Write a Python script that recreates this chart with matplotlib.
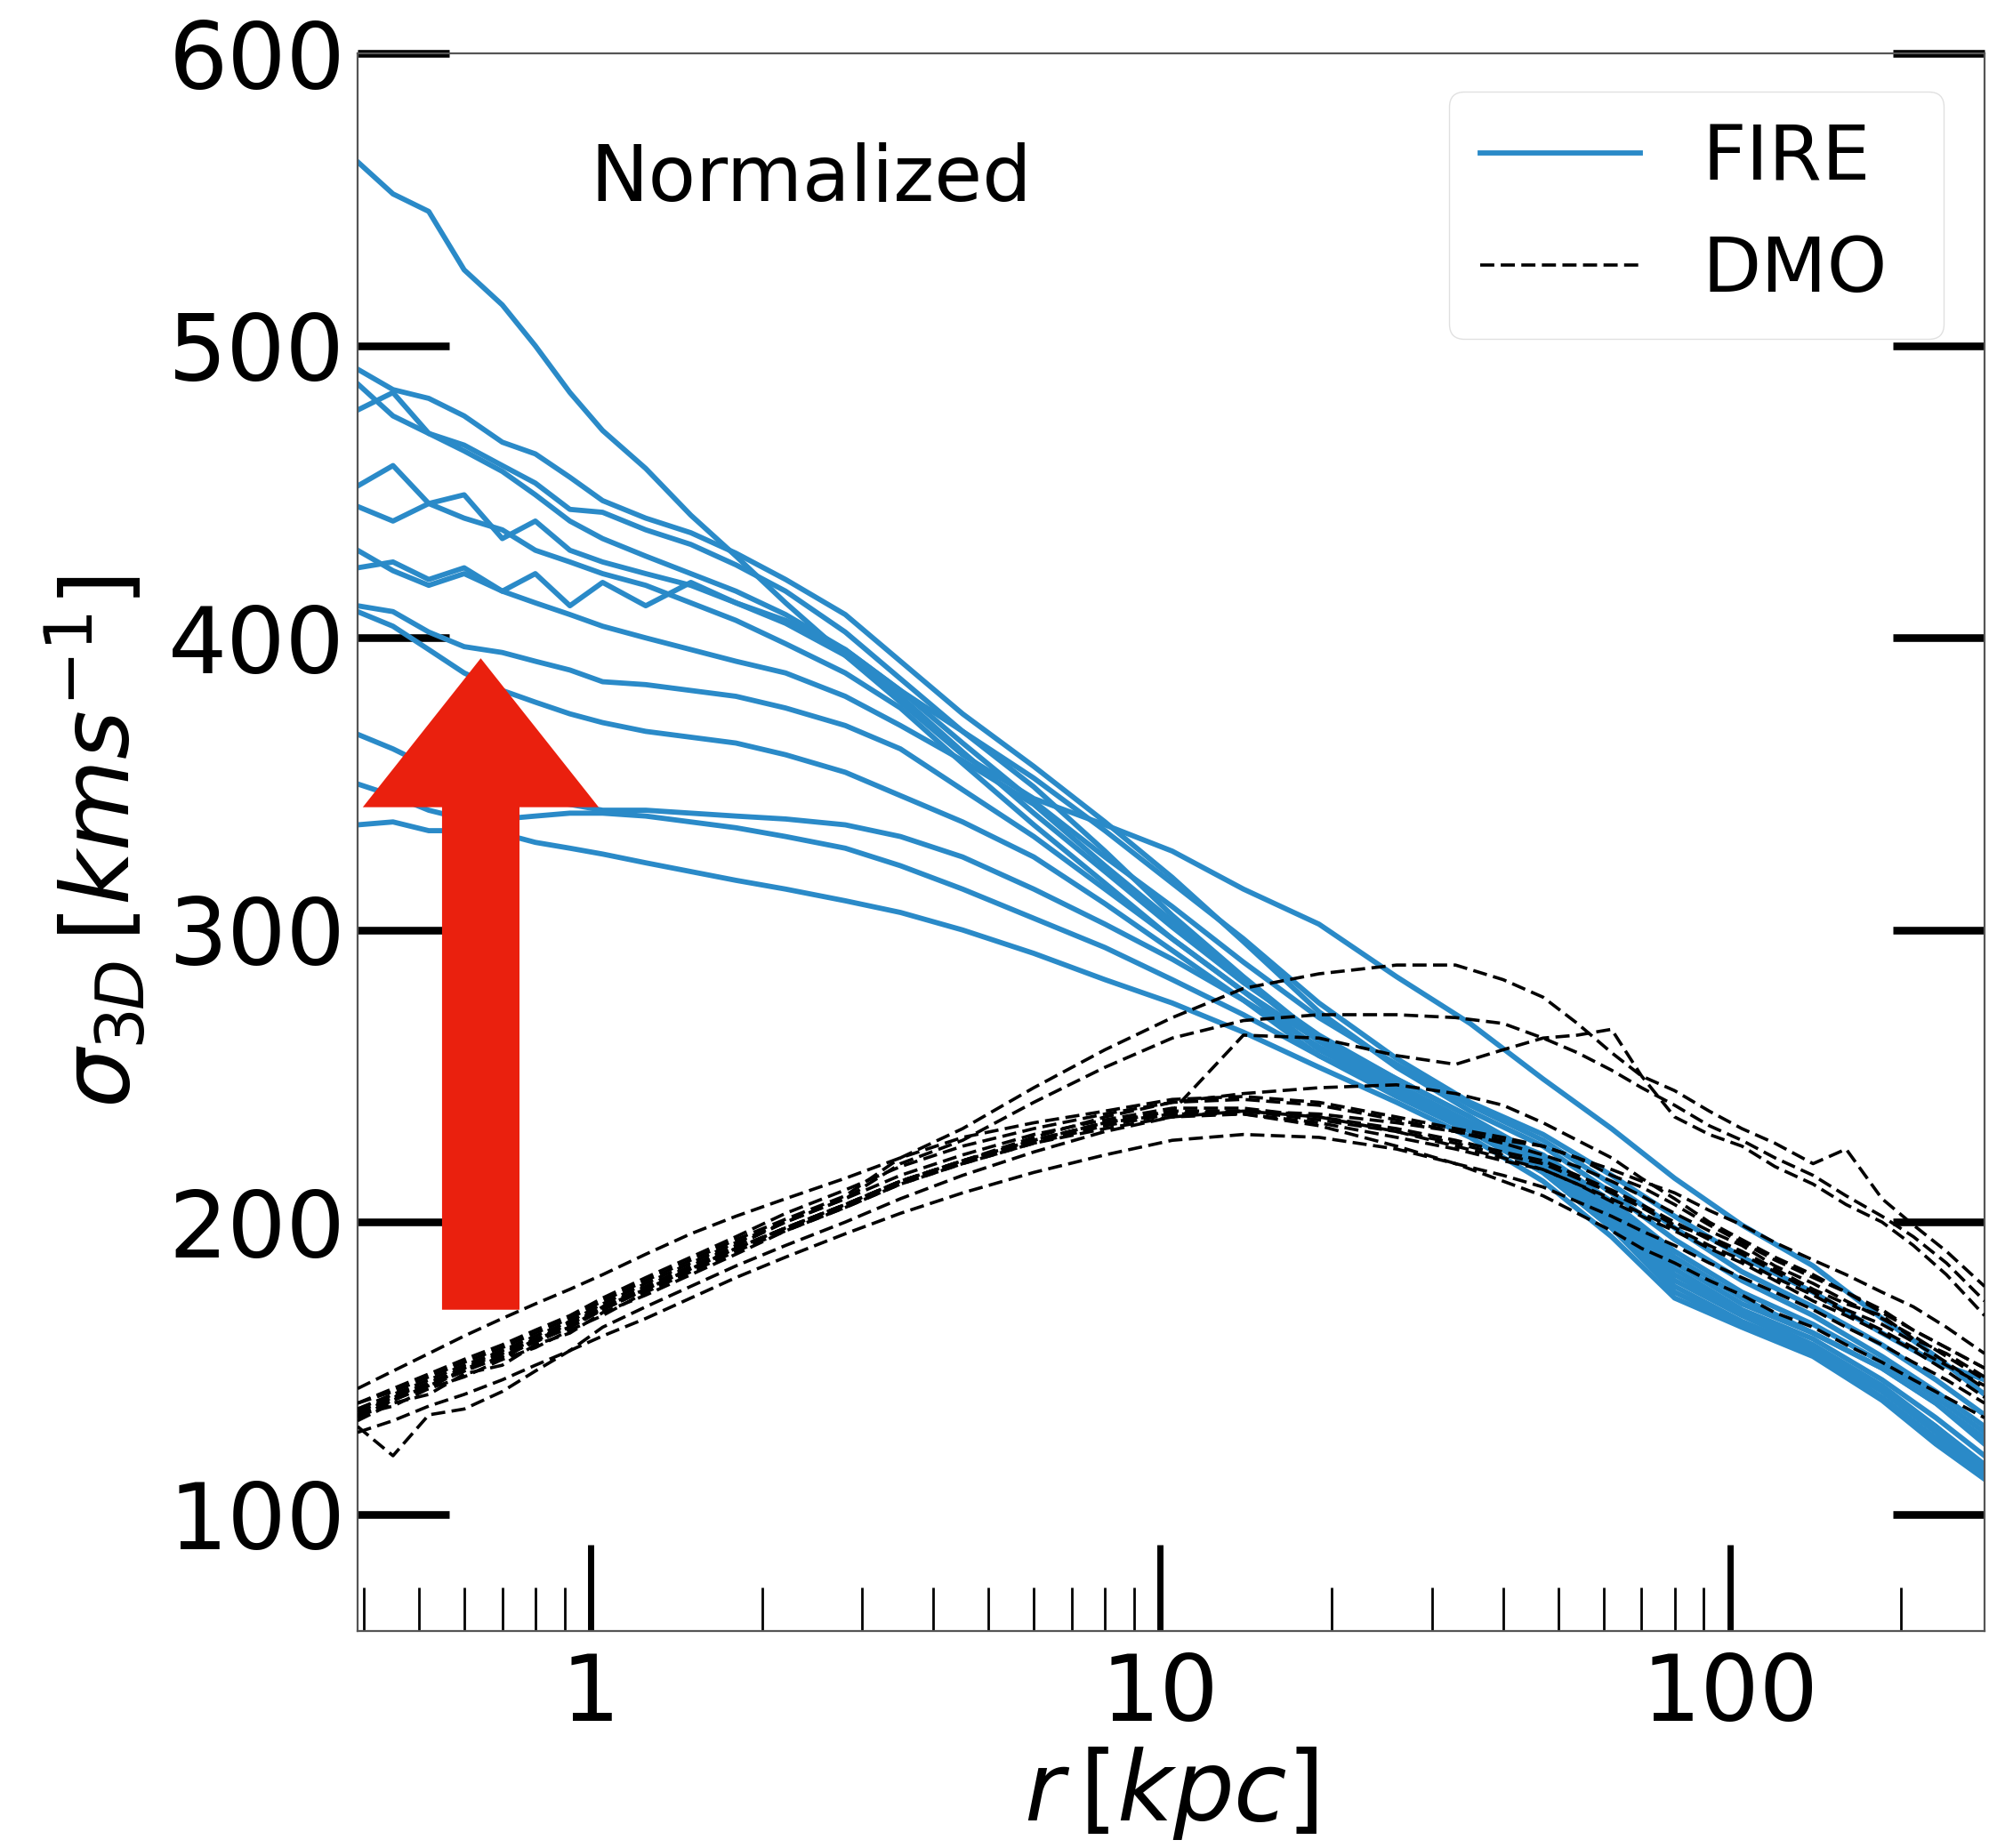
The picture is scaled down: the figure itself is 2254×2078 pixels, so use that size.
import matplotlib
matplotlib.use("Agg")
import matplotlib.pyplot as plt
from matplotlib.lines import Line2D
from matplotlib.patches import FancyArrow
from matplotlib.ticker import FixedLocator, FixedFormatter, NullFormatter

# ---------------- data ----------------
R_FIRE = [0.39, 0.45, 0.52, 0.6, 0.7, 0.8, 0.92, 1.05, 1.25, 1.5, 1.8, 2.2, 2.8, 3.5, 4.5,
          6, 8, 10.5, 14, 19, 26, 35, 47, 62, 80, 105, 140, 185, 230, 280]

fire_1 = [563, 552, 546, 526, 514, 500, 484, 471, 458, 442, 428, 412, 394, 378, 360, 345, 336, 327, 314, 302, 284, 268, 249, 232, 215, 199, 185, 167, 154, 141]
fire_2 = [492, 485, 482, 476, 467, 463, 455, 447, 441, 436, 429, 420, 408, 392, 374, 356, 337, 318, 296, 272, 253, 238, 226, 210, 194, 180, 168, 154, 142, 130]
fire_3 = [487, 476, 470, 466, 459, 453, 444, 443, 437, 432, 425, 416, 402, 386, 368, 349, 327, 305, 284, 263, 249, 236, 222, 204, 186, 172, 162, 150, 138, 124]
fire_4 = [478, 484, 470, 464, 457, 449, 440, 434, 428, 422, 416, 408, 396, 382, 364, 344, 325, 308, 289, 270, 254, 240, 228, 213, 198, 183, 171, 158, 146, 134]
fire_5 = [452, 459, 446, 449, 434, 440, 430, 426, 422, 418, 412, 405, 394, 380, 361, 340, 320, 301, 282, 264, 249, 236, 220, 202, 184, 170, 160, 146, 133, 120]
fire_6 = [445, 440, 446, 441, 437, 430, 426, 422, 418, 412, 406, 398, 388, 376, 357, 336, 316, 297, 279, 262, 247, 234, 218, 200, 182, 169, 158, 144, 130, 117]
fire_7 = [430, 423, 418, 422, 416, 422, 411, 419, 411, 419, 412, 406, 396, 382, 368, 352, 334, 316, 297, 275, 256, 241, 230, 216, 202, 188, 176, 162, 152, 146]
fire_8 = [424, 426, 420, 424, 416, 412, 408, 404, 400, 396, 392, 388, 380, 370, 358, 343, 322, 303, 283, 262, 247, 234, 221, 205, 188, 174, 162, 150, 138, 126]
fire_9 = [411, 409, 402, 397, 395, 392, 389, 385, 384, 382, 380, 376, 370, 362, 348, 332, 314, 297, 279, 259, 245, 233, 219, 200, 180, 168, 157, 143, 130, 116]
fire_10 = [409, 404, 396, 388, 382, 378, 374, 371, 368, 366, 364, 360, 354, 346, 337, 325, 309, 293, 276, 257, 243, 231, 217, 198, 178, 166, 156, 142, 128, 114]
fire_11 = [367, 362, 356, 352, 348, 345, 343, 341, 341, 340, 339, 338, 336, 332, 325, 314, 302, 290, 276, 260, 246, 233, 223, 207, 190, 176, 165, 152, 140, 128]
fire_12 = [350, 346, 341, 338, 338, 339, 340, 340, 339, 337, 335, 332, 328, 322, 314, 304, 294, 283, 271, 257, 244, 232, 217, 198, 176, 165, 155, 140, 126, 113]
fire_13 = [336, 337, 334, 334, 333, 330, 328, 326, 323, 320, 317, 314, 310, 306, 300, 292, 283, 275, 265, 253, 241, 229, 214, 195, 174, 164, 154, 139, 124, 112]

R_DMO = [0.39, 0.45, 0.52, 0.6, 0.7, 0.8, 0.92, 1.05, 1.25, 1.5, 1.8, 2.2, 2.8, 3.5, 4.5,
         6, 8, 10.5, 14, 19, 26, 33, 40, 47, 54, 62, 70, 80, 92, 105, 120, 140, 160, 185,
         210, 240, 280]

dmo_1 = [135, 140, 145, 150, 155, 160, 165, 171, 178, 185, 192, 200, 208, 216, 223, 230, 235, 239, 239, 236, 232, 228, 224, 221, 216, 211, 206, 200, 194, 189, 183, 176, 170, 165, 159, 152, 143]
dmo_2 = [132, 138, 141, 148, 151, 158, 162, 169, 175, 182, 189, 197, 205, 213, 220, 227, 232, 236, 237, 234, 229, 225, 221, 218, 213, 207, 202, 197, 191, 186, 180, 173, 168, 162, 156, 149, 140]
dmo_3 = [138, 143, 148, 153, 158, 163, 168, 174, 181, 188, 195, 203, 211, 219, 226, 232, 237, 241, 242, 240, 235, 231, 227, 223, 219, 214, 209, 203, 197, 192, 185, 179, 173, 167, 161, 154, 146]
dmo_4 = [143, 149, 155, 161, 167, 172, 177, 182, 189, 196, 202, 208, 215, 222, 229, 234, 238, 242, 243, 241, 236, 232, 229, 226, 222, 216, 212, 206, 199, 193, 187, 181, 176, 170, 163, 157, 150]
dmo_5 = [130, 120, 134, 136, 142, 149, 156, 164, 171, 178, 185, 192, 200, 208, 216, 224, 231, 236, 238, 236, 231, 226, 222, 218, 213, 208, 203, 198, 192, 187, 181, 175, 169, 163, 157, 151, 144]
dmo_6 = [128, 132, 137, 141, 146, 151, 156, 161, 167, 174, 181, 188, 196, 203, 210, 217, 223, 228, 230, 229, 225, 220, 216, 212, 207, 202, 197, 192, 186, 181, 176, 170, 164, 158, 152, 146, 138]
dmo_7 = [138, 142, 147, 152, 157, 162, 167, 173, 180, 187, 194, 201, 209, 222, 232, 246, 259, 270, 280, 285, 288, 288, 283, 277, 268, 258, 250, 245, 238, 232, 227, 220, 225, 208, 199, 190, 178]
dmo_8 = [136, 141, 146, 151, 156, 161, 166, 172, 179, 186, 193, 200, 208, 220, 228, 241, 253, 263, 269, 271, 271, 270, 268, 263, 258, 252, 246, 240, 233, 228, 222, 216, 209, 202, 195, 186, 173]
dmo_9 = [134, 139, 144, 149, 154, 159, 164, 170, 177, 184, 191, 198, 206, 214, 221, 228, 234, 238, 264, 263, 257, 254, 259, 263, 264, 266, 250, 236, 230, 226, 219, 213, 206, 200, 192, 182, 168]
dmo_10 = [136, 141, 144, 150, 156, 159, 166, 170, 177, 184, 191, 198, 206, 214, 221, 228, 234, 238, 238, 237, 234, 231, 228, 226, 222, 218, 214, 210, 204, 199, 193, 187, 182, 176, 171, 164, 155]
dmo_11 = [134, 140, 143, 150, 153, 160, 164, 171, 177, 184, 191, 198, 206, 214, 221, 228, 234, 237, 237, 233, 226, 220, 214, 209, 203, 197, 191, 186, 180, 175, 169, 164, 158, 152, 146, 140, 133]
dmo_12 = [134, 137, 143, 147, 153, 157, 163, 168, 176, 183, 190, 197, 205, 213, 220, 227, 233, 237, 238, 235, 231, 227, 223, 220, 215, 210, 205, 199, 195, 190, 184, 177, 172, 168, 160, 155, 147]
dmo_13 = [133, 139, 144, 149, 154, 159, 164, 170, 177, 184, 191, 198, 206, 214, 221, 229, 236, 241, 244, 246, 247, 244, 240, 234, 228, 222, 215, 208, 200, 194, 188, 182, 176, 169, 163, 157, 150]

FIRE_CURVES = [fire_1, fire_2, fire_3, fire_4, fire_5, fire_6, fire_7, fire_8, fire_9,
               fire_10, fire_11, fire_12, fire_13]
DMO_CURVES = [dmo_1, dmo_2, dmo_3, dmo_4, dmo_5, dmo_6, dmo_7, dmo_8, dmo_9, dmo_10,
              dmo_11, dmo_12, dmo_13]

X_MAJOR = [1, 10, 100]
X_MAJOR_LABELS = ["1", "10", "100"]
Y_TICKS = [100, 200, 300, 400, 500, 600]
LEGEND_LABELS = ["FIRE", "DMO"]
ANNOT = "Normalized"

# ---------------- style ----------------
BLUE = "#2A8AC8"
RED = "#EA200E"
DMO_DASH = (4.4, 2.0)

fig = plt.figure(figsize=(22.54, 20.78), dpi=100)
ax = fig.add_axes([0.17835, 0.11742, 0.81145, 0.85351])

for ys in FIRE_CURVES:
    ax.plot(R_FIRE, ys, color=BLUE, lw=4.2, solid_joinstyle="round", zorder=2)
for ys in DMO_CURVES:
    ax.plot(R_DMO, ys, color="black", lw=2.6, dashes=DMO_DASH, zorder=3)

ax.set_xscale("log")
ax.set_xlim(0.39, 280)
ax.set_ylim(60, 600)

ax.xaxis.set_major_locator(FixedLocator(X_MAJOR))
ax.xaxis.set_major_formatter(FixedFormatter(X_MAJOR_LABELS))
minors = [m * 10.0 ** e for e in (-1, 0, 1, 2) for m in range(2, 10)]
ax.xaxis.set_minor_locator(FixedLocator(minors))
ax.xaxis.set_minor_formatter(NullFormatter())
ax.set_yticks(Y_TICKS)

ax.tick_params(axis="y", which="major", direction="in", length=74, width=6.2,
               left=True, right=True, labelsize=75, pad=10)
ax.tick_params(axis="x", which="major", direction="in", length=70, width=5,
               top=False, bottom=True, labelsize=75, pad=16)
ax.tick_params(axis="x", which="minor", direction="in", length=35, width=2,
               top=False, bottom=True)
ax.tick_params(axis="y", which="minor", left=False, right=False)

for sp in ax.spines.values():
    sp.set_linewidth(1.6)
    sp.set_color("#555555")

ax.set_ylabel(r"$\sigma_{3D}\,[kms^{-1}]$", fontsize=76)
ax.yaxis.set_label_coords(-0.128, 0.5)
ax.set_xlabel(r"$r\,[kpc]$", fontsize=78)
ax.xaxis.set_label_coords(0.5, -0.072)

ax.text(0.143, 0.9066, ANNOT, transform=ax.transAxes, fontsize=63,
        ha="left", va="baseline")

handles = [Line2D([], [], color=BLUE, lw=4.2),
           Line2D([], [], color="black", lw=2.6, dashes=DMO_DASH)]
ax.legend(handles, LEGEND_LABELS, loc="upper left", bbox_to_anchor=(0.6709, 0.976, 0.304, 0.0),
          mode="expand", borderaxespad=0.0, fontsize=62, handlelength=2.1,
          frameon=True, framealpha=0.8, edgecolor="0.85")

arrow = FancyArrow(0.0757, 0.2037, 0.0, 0.413, width=0.0476, head_width=0.145,
                   head_length=0.0944, length_includes_head=True,
                   transform=ax.transAxes, color=RED, lw=0, zorder=10)
ax.add_patch(arrow)

fig.savefig("out.png", dpi=100)
